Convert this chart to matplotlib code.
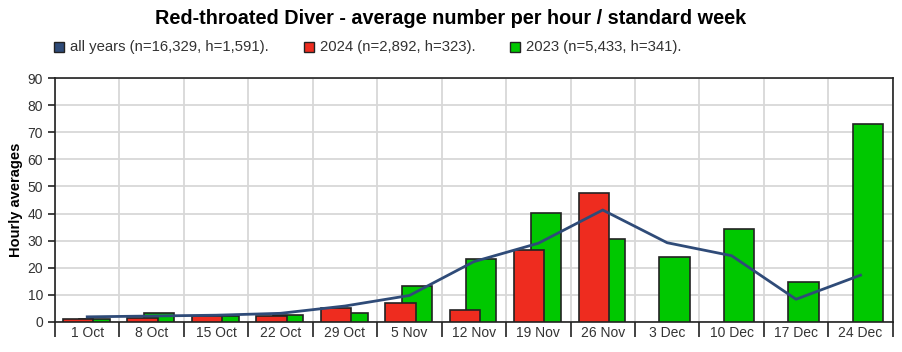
import numpy as np
import matplotlib
matplotlib.use('Agg')
import matplotlib.pyplot as plt
from matplotlib.patches import Rectangle

plt.rcParams['font.family'] = ['Liberation Sans', 'DejaVu Sans']

weeks = ['1 Oct', '8 Oct', '15 Oct', '22 Oct', '29 Oct', '5 Nov', '12 Nov',
         '19 Nov', '26 Nov', '3 Dec', '10 Dec', '17 Dec', '24 Dec']
all_years = [1.8, 2.1, 2.4, 3.1, 5.8, 9.7, 22.2, 29.0, 41.3, 29.2, 24.4, 8.3, 17.2]
y2024 = [0.9, 1.3, 2.1, 2.2, 5.1, 7.0, 4.2, 26.4, 47.6, 0, 0, 0, 0]
y2023 = [0.9, 3.3, 2.0, 2.3, 3.3, 13.2, 23.1, 40.2, 30.5, 24.1, 34.2, 14.8, 73.0]

legend_labels = ['all years (n=16,329, h=1,591).',
                 '2024 (n=2,892, h=323).',
                 '2023 (n=5,433, h=341).']

c_line = '#2f4b78'
c_red = '#ee2c1f'
c_green = '#00c800'

fig = plt.figure(figsize=(9.02, 3.52), dpi=100)
ax = fig.add_axes([55/902, 1-321.7/352, (892.7-55)/902, (321.7-78.3)/352])

x = np.arange(len(weeks))
w = 0.47
ax.bar(x + 0.115, y2023, width=w, color=c_green, edgecolor='#222222', linewidth=1.2, zorder=3)
red_x = [xi for xi, v in zip(x, y2024) if v > 0]
red_v = [v for v in y2024 if v > 0]
ax.bar(np.array(red_x) - 0.14, red_v, width=w, color=c_red, edgecolor='#222222', linewidth=1.2, zorder=4)
ax.plot(x, all_years, color=c_line, lw=2, zorder=5)

ax.set_xlim(-0.5, len(weeks) - 0.5)
ax.set_ylim(0, 90)
ax.set_yticks(range(0, 91, 10))
ax.set_xticks(np.arange(-0.5, len(weeks)), minor=False)
ax.set_xticklabels([])
ax.set_xticks(x, minor=True)
ax.set_xticklabels(weeks, minor=True)
ax.tick_params(axis='x', which='major', length=11, width=1.2, color='#222222')
ax.tick_params(axis='x', which='minor', length=0, pad=3, labelsize=10, labelcolor='#333333')
ax.tick_params(axis='y', length=5, width=1.2, color='#222222', labelsize=10, labelcolor='#333333')
ax.grid(True, which='major', color='#d8d8d8', lw=1.3, zorder=0)
for s in ax.spines.values():
    s.set_color('#222222')
    s.set_linewidth(1.2)
ax.set_ylabel('Hourly averages', fontsize=10.5, fontweight='bold', labelpad=3)

fig.text(0.5, 1 - 18/352, 'Red-throated Diver - average number per hour / standard week',
         ha='center', va='center', fontsize=14.3, fontweight='bold')

for lx, lab, col in zip([54, 304, 510], legend_labels, [c_line, c_red, c_green]):
    fig.patches.append(Rectangle((lx/902, 1 - 52/352), 10/902, 10/352, transform=fig.transFigure,
                                 facecolor=col, edgecolor='#222222', lw=1))
    fig.text((lx + 16)/902, 1 - 47/352, lab, ha='left', va='center', fontsize=10.7, color='#333333')

fig.savefig('out.png', dpi=100)
